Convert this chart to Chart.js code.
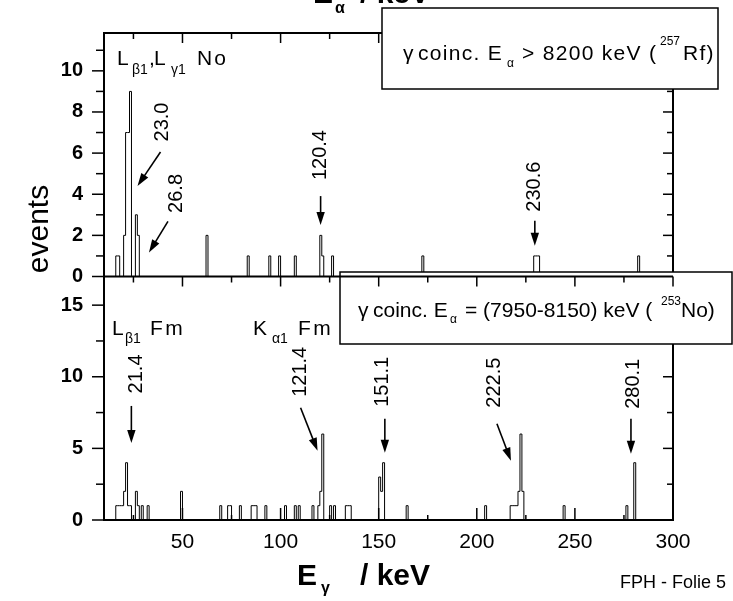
<!DOCTYPE html>
<html>
<head>
<meta charset="utf-8">
<script src="https://cdn.jsdelivr.net/npm/chart.js@4.4.1/dist/chart.umd.min.js"></script>
<style>
  html, body { margin: 0; padding: 0; background: #fff; }
  canvas { display: block; }
</style>
</head>
<body>
<canvas id="spectra" width="733" height="601"></canvas>
<script>
// ---- gamma spectra, 1 keV bins: lower bin edge (keV) and events per bin ----
const binWidth = 1;
const energyMin = 10;
const energyMax = 300;

// gamma rays in coincidence with E_alpha > 8200 keV (257Rf)
const rfBins   = [16, 17, 20, 21, 22, 23, 26, 27, 62, 83, 94, 99, 107, 120, 121, 126, 172, 229, 230, 231, 282];
const rfCounts = [ 1,  1,  2,  7,  7,  9,  3,  2,  2,  1,  1,  1,   1,   2,   1,   1,   1,   1,   1,   1,   1];

// gamma rays in coincidence with E_alpha = 7950-8150 keV (253No)
const noBins   = [16, 17, 18, 19, 20, 21, 22, 23, 26, 27, 29, 32, 49, 69, 73, 74, 79, 85, 86, 87, 92, 102, 107, 109,
                  116, 119, 120, 121, 125, 127, 133, 134, 135, 150, 151, 152, 164, 204, 217, 218, 219, 220, 221, 222, 223,
                  244, 276, 280];
const noCounts = [ 1,  1,  1,  1,  2,  4,  1,  1,  2,  1,  1,  1,  2,  1,  1,  1,  1,  1,  1,  1,  1,   1,   1,   1,
                    1,   1,   2,   6,   1,   1,   1,   1,   1,   3,   2,   4,   1,   1,   1,   1,   1,   1,   2,   6,   2,
                    1,   1,   4];

// axis tick values
const energyTicks = [50, 100, 150, 200, 250, 300];
const rfCountTicks = [0, 2, 4, 6, 8, 10];
const noCountTicks = [0, 5, 10, 15];
const rfCountMax = 11.84;
const noCountMax = 17;

// marked lines: energy (keV) and count level where the arrow ends
const rfLineEnergies = [23.0, 26.8, 120.4, 230.6];
const rfArrowCounts  = [4.4, 1.17, 2.5, 1.5];
const noLineEnergies = [21.4, 121.4, 151.1, 222.5, 280.1];
const noArrowCounts  = [5.38, 4.83, 4.69, 4.14, 4.62];

// ---- drawing ----
const FONT = '"Liberation Sans", Arial, Helvetica, sans-serif';
const font = (size, bold) => (bold ? 'bold ' : '') + size + 'px ' + FONT;

// histogram outline as a step line: up at each bin, back to zero after isolated bins
function stepPoints(lo, counts) {
  const pts = [{ x: energyMin, y: 0 }];
  for (let i = 0; i < lo.length; i++) {
    pts.push({ x: lo[i], y: counts[i] });
    const end = lo[i] + binWidth;
    if (i === lo.length - 1 || lo[i + 1] > end + 1e-9) pts.push({ x: end, y: 0 });
  }
  pts.push({ x: energyMax, y: 0 });
  return pts;
}

// arrow geometry relative to the arrow tip, in pixels: [tipShiftX, tailDx, tailDy, labelDx, labelDy]
const rfArrowGeom = [[8, 23, -34, 25, -64], [12, 19, -31, 28, -59], [0, 0, -29, 0, -70], [-2, 0, -25, 0, -59]];
const noArrowGeom = [[5, 0, -37, 5, -69], [-5, -17, -43, -17, -79], [4, 0, -34, -2, -71], [-10, -14, -37, -16, -78], [-3, 0, -35, 3, -70]];

function line(ctx, x1, y1, x2, y2, w) {
  ctx.lineWidth = w;
  ctx.beginPath();
  ctx.moveTo(x1, y1);
  ctx.lineTo(x2, y2);
  ctx.stroke();
}

function arrow(ctx, x1, y1, x2, y2) {
  const ang = Math.atan2(y2 - y1, x2 - x1);
  const L = 13, W = 4.2;
  const cx = Math.cos(ang), sy = Math.sin(ang);
  line(ctx, x1, y1, x2 - cx * (L - 2), y2 - sy * (L - 2), 1.6);
  ctx.beginPath();
  ctx.moveTo(x2, y2);
  ctx.lineTo(x2 - cx * L - sy * W, y2 - sy * L + cx * W);
  ctx.lineTo(x2 - cx * L + sy * W, y2 - sy * L - cx * W);
  ctx.closePath();
  ctx.fill();
}

// text pieces: [text, x, baselineY, size, bold, letterSpacing]
function pieces(ctx, list) {
  ctx.textAlign = 'left';
  ctx.textBaseline = 'alphabetic';
  for (const [t, x, y, size, bold, sp] of list) {
    ctx.font = font(size, bold);
    ctx.letterSpacing = (sp || 0) + 'px';
    ctx.fillText(t, x, y);
  }
  ctx.letterSpacing = '0px';
}

function vText(ctx, t, cx, cy, size) {
  ctx.save();
  ctx.translate(cx, cy);
  ctx.rotate(-Math.PI / 2);
  ctx.font = font(size, false);
  ctx.textAlign = 'center';
  ctx.textBaseline = 'middle';
  ctx.fillText(t, 0, 0);
  ctx.restore();
}

function box(ctx, x1, y1, x2, y2) {
  ctx.fillStyle = '#fff';
  ctx.fillRect(x1, y1, x2 - x1, y2 - y1);
  ctx.lineWidth = 1.5;
  ctx.strokeRect(x1, y1, x2 - x1, y2 - y1);
  ctx.fillStyle = '#000';
}

function markLines(ctx, xs, ys, energies, levels, geom) {
  energies.forEach((e, i) => {
    const [sx, tdx, tdy, ldx, ldy] = geom[i];
    const tx = xs.getPixelForValue(e) + sx;
    const ty = ys.getPixelForValue(levels[i]);
    arrow(ctx, tx + tdx, ty + tdy, tx, ty);
    vText(ctx, e.toFixed(1), tx + ldx, ty + ldy, 20);
  });
}

const framePlugin = {
  id: 'frame',
  afterDraw(chart) {
    const { ctx, chartArea: a } = chart;
    const { x, yRf, yNo } = chart.scales;
    const mid = yNo.top;
    ctx.save();
    ctx.strokeStyle = '#000';
    ctx.fillStyle = '#000';

    // outer frame
    line(ctx, a.left, a.top - 1, a.left, a.bottom + 1, 2);
    line(ctx, a.left, a.top, a.right, a.top, 2);
    line(ctx, a.right, a.top - 1, a.right, a.bottom + 1, 2);
    line(ctx, a.left, a.bottom, a.right, a.bottom, 2);

    // energy ticks on top and bottom borders (inward)
    for (let e = 25; e <= energyMax; e += 25) {
      const px = x.getPixelForValue(e);
      const major = e % 50 === 0;
      line(ctx, px, a.top, px, a.top + (major ? 10 : 6), 1.5);
      line(ctx, px, a.bottom, px, a.bottom - (major ? 12 : 5), 1.5);
    }
    // count ticks: outward on the left, inward on the right
    for (let v = 0; v <= 11; v++) {
      const py = yRf.getPixelForValue(v);
      const major = v % 2 === 0;
      line(ctx, a.left, py, a.left - (major ? 12 : 8), py, 1.5);
      if (v > 0) line(ctx, a.right, py, a.right - (major ? 10 : 6), py, 1.5);
    }
    for (let v = 0; v < noCountMax; v += 2.5) {
      const py = yNo.getPixelForValue(v);
      const major = v % 5 === 0;
      line(ctx, a.left, py, a.left - (major ? 12 : 8), py, 1.5);
      if (v > 0) line(ctx, a.right, py, a.right - (major ? 10 : 6), py, 1.5);
    }

    // legend of the lower panel; the panel border stays on top of it
    box(ctx, 340, 272, 732, 344);
    pieces(ctx, [
      ['\u03B3', 358, 317, 21], ['coinc. E', 373, 317, 21], ['\u03B1', 450, 323, 12],
      ['= (7950-8150) keV (', 465, 317, 21], ['253', 661, 305, 12], ['No)', 681, 317, 21]
    ]);
    line(ctx, a.left, mid, a.right, mid, 2);
    for (let e = 25; e <= energyMax; e += 25) {
      const px = x.getPixelForValue(e);
      line(ctx, px, mid, px, mid + (e % 50 === 0 ? 10 : 6), 1.5);
    }

    // legend of the upper panel
    box(ctx, 382, 8, 718, 89);
    pieces(ctx, [
      ['\u03B3', 403, 60, 21], ['coinc. E', 418, 60, 21, false, 1.3], ['\u03B1', 507, 67, 12],
      ['> 8200 keV (', 522, 60, 21, false, 1.3], ['257', 660, 45, 12], ['Rf)', 683, 60, 21, false, 1.3]
    ]);

    // line groups
    pieces(ctx, [
      ['L', 117, 65, 21], ['\u03B21', 132, 74, 14], [',', 149, 65, 21], ['L', 154, 65, 21],
      ['\u03B31', 171, 74, 14], ['No', 197, 65, 21, false, 2],
      ['L', 112, 335, 21], ['\u03B21', 125, 343, 14], ['Fm', 150, 335, 21, false, 2.5],
      ['K', 253, 335, 21], ['\u03B11', 272, 343, 14], ['Fm', 298, 335, 21, false, 2.5]
    ]);

    // marked gamma lines
    markLines(ctx, x, yRf, rfLineEnergies, rfArrowCounts, rfArrowGeom);
    markLines(ctx, x, yNo, noLineEnergies, noArrowCounts, noArrowGeom);

    // axis titles
    pieces(ctx, [
      ['E', 313, 3, 30, true], ['\u03B1', 335, 13, 16, true], ['/ keV', 360, 3, 30, true],
      ['E', 297, 585, 30, true], ['\u03B3', 321, 593, 16, true], ['/ keV', 360, 585, 30, true],
      ['FPH - Folie 5', 620, 588, 18]
    ]);
    ctx.save();
    ctx.translate(48, 229);
    ctx.rotate(-Math.PI / 2);
    ctx.font = font(30, false);
    ctx.textAlign = 'center';
    ctx.textBaseline = 'alphabetic';
    ctx.fillText('events', 0, 0);
    ctx.restore();

    ctx.restore();
  }
};

const countAxis = (max, ticks) => ({
  type: 'linear',
  position: 'left',
  stack: 'panels',
  stackWeight: 1,
  min: 0,
  max: max,
  afterBuildTicks: s => { s.ticks = ticks.map(v => ({ value: v })); },
  afterFit: s => { s.width = 60; },
  grid: { display: false, drawTicks: false },
  border: { display: false },
  ticks: { color: '#000', padding: 21, font: { family: FONT, size: 20, weight: 'bold' } }
});

new Chart(document.getElementById('spectra'), {
  type: 'line',
  data: {
    datasets: [
      { data: stepPoints(rfBins, rfCounts), yAxisID: 'yRf', stepped: 'before', borderColor: '#000', borderWidth: 1, pointRadius: 0, fill: false },
      { data: stepPoints(noBins, noCounts), yAxisID: 'yNo', stepped: 'before', borderColor: '#000', borderWidth: 1, pointRadius: 0, fill: false }
    ]
  },
  options: {
    responsive: false,
    animation: false,
    events: [],
    layout: { padding: { left: 44, right: 60, top: 27, bottom: 31 } },
    plugins: { legend: { display: false }, tooltip: { enabled: false } },
    scales: {
      x: {
        type: 'linear',
        min: energyMin,
        max: energyMax,
        afterBuildTicks: s => { s.ticks = energyTicks.map(v => ({ value: v })); },
        afterFit: s => { s.height = 50; },
        grid: { display: false, drawTicks: false },
        border: { display: false },
        ticks: { color: '#000', padding: 10, maxRotation: 0, autoSkip: false, font: { family: FONT, size: 21 } }
      },
      // stacked left axes are placed bottom-up in definition order
      yNo: countAxis(noCountMax, noCountTicks),
      yRf: countAxis(rfCountMax, rfCountTicks)
    }
  },
  plugins: [framePlugin]
});
</script>
</body>
</html>
